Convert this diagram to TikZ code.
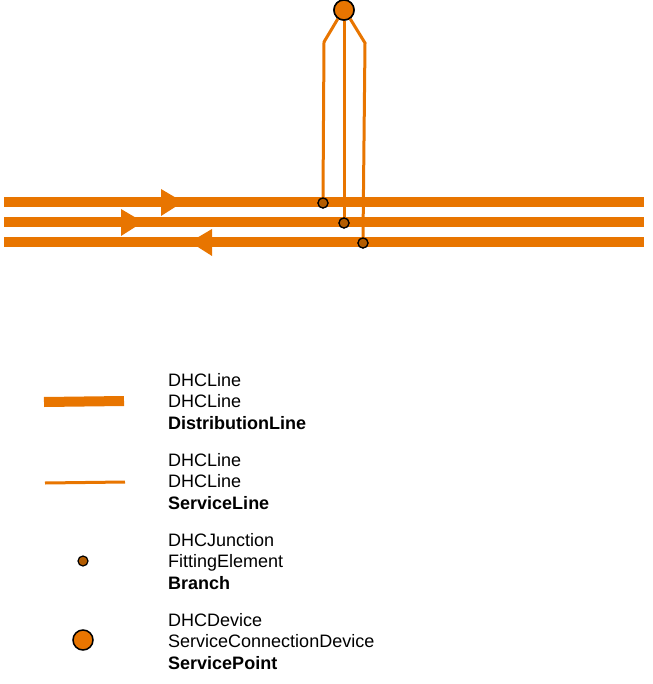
\documentclass[tikz,border=0pt]{standalone}
\usepackage{fontspec}
\setmainfont{Liberation Sans}
\begin{document}
\begin{tikzpicture}[x=1pt,y=-1pt,
  dist/.style={draw=lineor,line width=10pt},
  serv/.style={draw=lineor,line width=3pt},
  br/.style={circle,draw=black,fill=brfill,line width=1.2pt,inner sep=0pt,minimum size=10pt},
  sp/.style={circle,draw=black,fill=lineor,line width=1.5pt,inner sep=0pt,minimum size=20pt},
  tri/.style={fill=lineor},
  lbl/.style={anchor=north west,align=left,inner sep=0pt,font=\fontsize{18}{21.6}\selectfont}]
\definecolor{lineor}{HTML}{E87500}
\definecolor{brfill}{HTML}{B35C00}
\useasboundingbox (0,0) rectangle (652,684);
% distribution lines
\coordinate (a1) at (4,202); \coordinate (a2) at (644,202);
\coordinate (b1) at (4,222); \coordinate (b2) at (644,222);
\coordinate (c1) at (4,242); \coordinate (c2) at (644,242);
\draw[dist] (a1) -- (a2);
\draw[dist] (b1) -- (b2);
\draw[dist] (c1) -- (c2);
\fill[tri] (161,189) -- (183,202) -- (161,216) -- cycle;
\fill[tri] (121,209) -- (143,222) -- (121,236) -- cycle;
\fill[tri] (212,229) -- (190,242) -- (212,256) -- cycle;
% service lines
\node[sp] (spt) at (344,10) {};
\node[br] (j1) at (323,203) {};
\node[br] (j2) at (344,223) {};
\node[br] (j3) at (363,243) {};
\draw[serv] (j1.north) -- (324,42) -- (spt.235);
\draw[serv] (j2.north) -- (spt.south);
\draw[serv] (j3.north) -- (365,43) -- (spt.305);
\node[br] at (j1) {};
\node[br] at (j2) {};
\node[br] at (j3) {};
\node[sp] at (spt) {};
% legend
\coordinate (l1) at (44,402); \coordinate (l2) at (124,401);
\draw[dist] (l1) -- (l2);
\coordinate (m1) at (45,483); \coordinate (m2) at (125,482);
\draw[serv] (m1) -- (m2);
\node[br] (lb) at (83,561) {};
\node[sp] (ls) at (83,640) {};
\node[lbl] (t1) at (168,373) {DHCLine\\DHCLine\\\textbf{DistributionLine}};
\node[lbl] (t2) at (168,453) {DHCLine\\DHCLine\\\textbf{ServiceLine}};
\node[lbl] (t3) at (168,533) {DHCJunction\\FittingElement\\\textbf{Branch}};
\node[lbl] (t4) at (168,613) {DHCDevice\\ServiceConnectionDevice\\\textbf{ServicePoint}};
\end{tikzpicture}
\end{document}
